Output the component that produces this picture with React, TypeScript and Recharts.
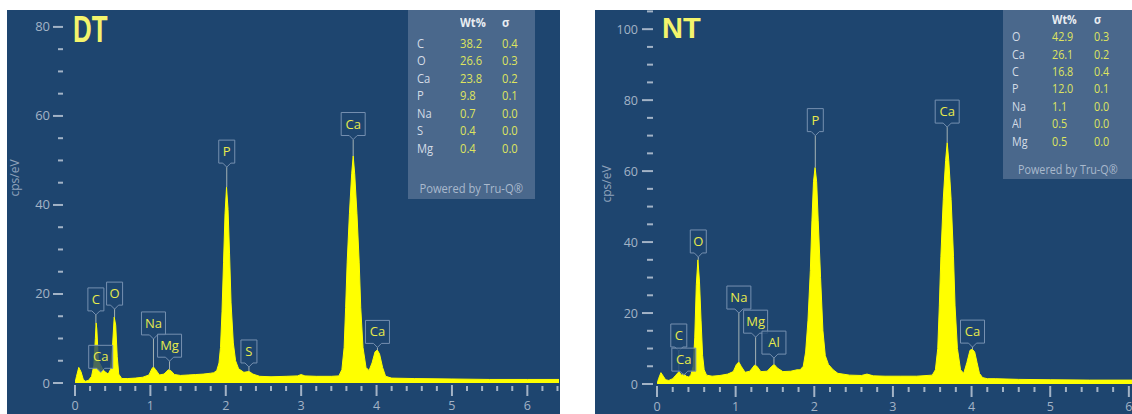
import React from "react";
import { Area, AreaChart, Label, ReferenceDot, ReferenceLine, XAxis, YAxis } from "recharts";

// DT spectrum (keV, cps/eV)
const dtEnergy = [
  0, 0.02, 0.05, 0.08, 0.11, 0.14, 0.18, 0.22, 0.25, 0.27,
  0.28, 0.29, 0.31, 0.34, 0.37, 0.4, 0.44, 0.47, 0.5, 0.52,
  0.54, 0.56, 0.58, 0.62, 0.7, 0.8, 0.9, 0.98, 1.02, 1.04,
  1.07, 1.12, 1.18, 1.24, 1.27, 1.32, 1.4, 1.5, 1.6, 1.7,
  1.8, 1.84, 1.88, 1.91, 1.93, 1.95, 1.97, 1.99, 2.01, 2.03,
  2.05, 2.07, 2.1, 2.13, 2.17, 2.24, 2.31, 2.36, 2.45, 2.6,
  2.8, 2.95, 3.0, 3.05, 3.2, 3.4, 3.5, 3.54, 3.57, 3.59,
  3.61, 3.64, 3.67, 3.69, 3.71, 3.74, 3.77, 3.79, 3.82, 3.86,
  3.9, 3.94, 3.98, 4.01, 4.04, 4.08, 4.12, 4.2, 4.5, 5.0,
  5.5, 6.0, 6.42,
];
const dtCounts = [
  0, 1.5, 3.5, 2.5, 0.8, 0.4, 0.6, 1.5, 4, 10,
  13.5, 12, 5, 4, 3, 2.5, 2, 3, 9, 14.8,
  13, 6, 2, 1, 1, 1.1, 1.3, 1.8, 3.2, 3.6,
  3, 1.8, 2, 3, 2.8, 1.9, 1.7, 1.8, 1.9, 2,
  2.2, 2.3, 2.8, 4.5, 8, 16, 27, 38, 44, 39,
  29, 18, 9, 5, 3.2, 2.4, 2.6, 2, 1.5, 1.4,
  1.5, 1.6, 1.9, 1.6, 1.5, 1.5, 1.6, 3, 8, 17,
  27, 38, 47, 51, 47, 38, 27, 17, 8, 3.5,
  2.8, 4.5, 7, 7.4, 6.5, 3.5, 1.5, 1.1, 1, 0.9,
  0.8, 0.8, 0.8,
];

// NT spectrum (keV, cps/eV)
const ntEnergy = [
  0, 0.02, 0.05, 0.08, 0.11, 0.15, 0.2, 0.24, 0.28, 0.31,
  0.34, 0.37, 0.4, 0.43, 0.46, 0.48, 0.5, 0.52, 0.54, 0.56,
  0.58, 0.6, 0.63, 0.7, 0.8, 0.9, 0.97, 1.01, 1.04, 1.07,
  1.12, 1.18, 1.24, 1.27, 1.32, 1.4, 1.46, 1.49, 1.53, 1.6,
  1.7, 1.78, 1.82, 1.86, 1.89, 1.92, 1.95, 1.97, 1.99, 2.01,
  2.03, 2.05, 2.08, 2.11, 2.14, 2.18, 2.24, 2.3, 2.45, 2.6,
  2.67, 2.75, 2.9, 3.1, 3.3, 3.5, 3.54, 3.57, 3.59, 3.61,
  3.64, 3.67, 3.69, 3.71, 3.74, 3.77, 3.79, 3.82, 3.86, 3.9,
  3.94, 3.98, 4.01, 4.04, 4.07, 4.1, 4.14, 4.2, 4.3, 4.6,
  5.0, 5.5, 6.04,
];
const ntCounts = [
  0, 1.5, 3.2, 2.2, 1.2, 1, 1.5, 2.5, 3.5, 2.5,
  3, 2.2, 2, 2.5, 5, 13, 28, 35, 29, 18,
  8, 4, 2.5, 2.2, 2.4, 2.8, 3.5, 5.5, 6.2, 5,
  3.3, 3.6, 5.3, 5, 3.5, 3.6, 5, 5.5, 4.5, 3.5,
  3.6, 4, 4, 5, 9, 18, 32, 46, 57, 61,
  57, 46, 30, 15, 8, 5.5, 4, 3, 2.5, 2.4,
  2.8, 2.3, 2.2, 2.2, 2.2, 2.5, 4, 10, 22, 36,
  52, 63, 68, 63, 52, 36, 22, 10, 4, 3,
  6, 9.5, 9.8, 9, 6, 3, 1.8, 1.5, 1.5, 1.3,
  1.2, 1.1, 1.1,
];

// peak tags: energy, peak height, pointer tip (cps/eV)
const dtPeaks = [
  { el: "C", keV: 0.277, top: 13.5, tip: 15.3 },
  { el: "Ca", keV: 0.341, top: 4, tip: 2.4 },
  { el: "O", keV: 0.525, top: 14.8, tip: 16.6 },
  { el: "Na", keV: 1.041, top: 3.6, tip: 9.9 },
  { el: "Mg", keV: 1.254, top: 3, tip: 4.9 },
  { el: "P", keV: 2.013, top: 44, tip: 48.5 },
  { el: "S", keV: 2.307, top: 2.6, tip: 3.6 },
  { el: "Ca", keV: 3.69, top: 51, tip: 54.7 },
  { el: "Ca", keV: 4.012, top: 7.4, tip: 8 },
];
const ntPeaks = [
  { el: "C", keV: 0.277, top: 3.5, tip: 9.3 },
  { el: "Ca", keV: 0.341, top: 3, tip: 2.5 },
  { el: "O", keV: 0.525, top: 35, tip: 35.8 },
  { el: "Na", keV: 1.041, top: 6.2, tip: 20 },
  { el: "Mg", keV: 1.254, top: 5.3, tip: 13.2 },
  { el: "Al", keV: 1.487, top: 5.5, tip: 7.3 },
  { el: "P", keV: 2.013, top: 61, tip: 70 },
  { el: "Ca", keV: 3.69, top: 68, tip: 72.4 },
  { el: "Ca", keV: 4.012, top: 9.8, tip: 10.4 },
];

const dtElements = ["C", "O", "Ca", "P", "Na", "S", "Mg"];
const dtWt = ["38.2", "26.6", "23.8", "9.8", "0.7", "0.4", "0.4"];
const dtSigma = ["0.4", "0.3", "0.2", "0.1", "0.0", "0.0", "0.0"];
const ntElements = ["O", "Ca", "C", "P", "Na", "Al", "Mg"];
const ntWt = ["42.9", "26.1", "16.8", "12.0", "1.1", "0.5", "0.5"];
const ntSigma = ["0.3", "0.2", "0.4", "0.1", "0.0", "0.0", "0.0"];

const dtXTicks = [0, 0.2, 0.4, 0.6, 0.8, 1, 1.2, 1.4, 1.6, 1.8, 2, 2.2, 2.4, 2.6, 2.8, 3, 3.2, 3.4, 3.6, 3.8, 4, 4.2, 4.4, 4.6, 4.8, 5, 5.2, 5.4, 5.6, 5.8, 6, 6.2, 6.4];
const ntXTicks = [0, 0.2, 0.4, 0.6, 0.8, 1, 1.2, 1.4, 1.6, 1.8, 2, 2.2, 2.4, 2.6, 2.8, 3, 3.2, 3.4, 3.6, 3.8, 4, 4.2, 4.4, 4.6, 4.8, 5, 5.2, 5.4, 5.6, 5.8, 6];
const dtYTicks = [0, 5, 10, 15, 20, 25, 30, 35, 40, 45, 50, 55, 60, 65, 70, 75, 80];
const ntYTicks = [0, 5, 10, 15, 20, 25, 30, 35, 40, 45, 50, 55, 60, 65, 70, 75, 80, 85, 90, 95, 100, 105];

const BG = "#1e456f";
const TICK = "#a3b3c6";
const YELLOW = "#ffff00";
const FONT = "'Open Sans', 'Noto Sans', sans-serif";

type AxisCfg = { dashEnd: number; majorLen: number; minorLen: number; labelEnd: number; fontSize: number };

function makeYTick(cfg: AxisCfg) {
  return (props: any) => {
    const { x, y, payload } = props;
    const major = payload.value % 20 === 0;
    const len = major ? cfg.majorLen : cfg.minorLen;
    return (
      <g>
        <line x1={x - cfg.dashEnd - len} x2={x - cfg.dashEnd} y1={y} y2={y} stroke={TICK} strokeWidth={2} />
        {major ? (
          <text x={x - cfg.labelEnd} y={y + 4.5} textAnchor="end" fill={TICK} fontSize={cfg.fontSize} fontFamily={FONT}>
            {payload.value}
          </text>
        ) : null}
      </g>
    );
  };
}

function XTick(props: any) {
  const { x, y, payload } = props;
  const major = Number.isInteger(payload.value);
  return (
    <g>
      <line x1={x} x2={x} y1={y + (major ? 2 : 3)} y2={y + (major ? 13 : 8)} stroke={TICK} strokeWidth={2} />
      {major ? (
        <text x={x} y={y + 27} textAnchor="middle" fill={TICK} fontSize={12.5} fontFamily={FONT}>
          {payload.value}
        </text>
      ) : null}
    </g>
  );
}

function PeakTag(props: any) {
  const { cx, cy, el } = props;
  const w = el.length > 1 ? 24 : 16;
  const h = 23;
  const n = 4;
  const top = cy - n - h;
  const d = `M${cx - w / 2},${top} H${cx + w / 2} V${top + h} H${cx + n} L${cx},${cy} L${cx - n},${top + h} H${cx - w / 2} Z`;
  return (
    <g>
      <path d={d} fill={BG} fillOpacity={0.8} stroke="#7690b0" strokeWidth={1} />
      <text x={cx} y={top + h / 2 + 4.5} textAnchor="middle" fill="#e8ea4c" fontSize={13} fontFamily={FONT}>
        {el}
      </text>
    </g>
  );
}

type Peak = { el: string; keV: number; top: number; tip: number };

type SpectrumProps = {
  energy: number[];
  counts: number[];
  peaks: Peak[];
  xTicks: number[];
  yTicks: number[];
  xMax: number;
  yMax: number;
  width: number;
  yAxisWidth: number;
  xAxisHeight: number;
  yCfg: AxisCfg;
  unitPos: { x: number; y: number };
};

function Spectrum(p: SpectrumProps) {
  const data = p.energy.map((e, i) => ({ keV: e, cps: p.counts[i] }));
  const YTick = makeYTick(p.yCfg);
  return (
    <AreaChart width={p.width} height={404} data={data} margin={{ top: 0, right: 0, left: 0, bottom: 0 }}>
      <XAxis
        type="number"
        dataKey="keV"
        domain={[0, p.xMax]}
        ticks={p.xTicks}
        interval={0}
        allowDataOverflow
        axisLine={false}
        tickLine={false}
        tickSize={0}
        tickMargin={0}
        height={p.xAxisHeight}
        tick={XTick}
      />
      <YAxis
        type="number"
        domain={[0, p.yMax]}
        ticks={p.yTicks}
        interval={0}
        allowDataOverflow
        axisLine={false}
        tickLine={false}
        tickSize={0}
        tickMargin={0}
        width={p.yAxisWidth}
        tick={YTick}
      >
        <Label
          content={() => (
            <text
              x={p.unitPos.x}
              y={p.unitPos.y}
              transform={`rotate(-90 ${p.unitPos.x} ${p.unitPos.y})`}
              textAnchor="middle"
              fill="#8ea2bb"
              fontSize={12}
              fontFamily={FONT}
            >
              cps/eV
            </text>
          )}
        />
      </YAxis>
      <Area
        type="linear"
        dataKey="cps"
        stroke={YELLOW}
        strokeWidth={1}
        fill={YELLOW}
        fillOpacity={1}
        isAnimationActive={false}
      />
      {p.peaks.map((pk, i) => (
        <ReferenceLine
          key={`l${i}`}
          segment={[
            { x: pk.keV, y: pk.top },
            { x: pk.keV, y: pk.tip },
          ]}
          stroke="#a4b2b4"
          strokeWidth={1}
        />
      ))}
      {p.peaks.map((pk, i) => (
        <ReferenceDot key={`d${i}`} x={pk.keV} y={pk.tip} r={0} ifOverflow="visible" shape={(s: any) => <PeakTag {...s} el={pk.el} />} />
      ))}
    </AreaChart>
  );
}

type TableProps = {
  left: number;
  width: number;
  height: number;
  elements: string[];
  wt: string[];
  sigma: string[];
  headerY: number;
  rowY: number;
  rowGap: number;
  nameX: number;
  wtX: number;
  sigmaX: number;
  poweredY: number;
  fontSize: number;
};

function ResultTable(t: TableProps) {
  const cell = (x: number, y: number, color: string, text: string, bold = false) => (
    <div
      style={{
        position: "absolute",
        left: x,
        top: y - t.fontSize * 0.7,
        color,
        fontSize: t.fontSize,
        fontWeight: bold ? 700 : 400,
        lineHeight: "1.4",
        whiteSpace: "nowrap",
        transform: "scaleX(0.86)",
        transformOrigin: "left center",
      }}
    >
      {text}
    </div>
  );
  return (
    <div
      style={{
        position: "absolute",
        left: t.left,
        top: 0,
        width: t.width,
        height: t.height,
        background: "#4a688c",
        fontFamily: FONT,
      }}
    >
      {cell(t.wtX, t.headerY, "#e8edf2", "Wt%", true)}
      {cell(t.sigmaX, t.headerY, "#e8edf2", "σ", true)}
      {t.elements.map((el, i) => (
        <React.Fragment key={el}>
          {cell(t.nameX, t.rowY + i * t.rowGap, "#d4dce6", el)}
          {cell(t.wtX, t.rowY + i * t.rowGap, "#dfe45e", t.wt[i])}
          {cell(t.sigmaX, t.rowY + i * t.rowGap, "#dfe45e", t.sigma[i])}
        </React.Fragment>
      ))}
      <div
        style={{
          position: "absolute",
          left: 0,
          width: t.width,
          top: t.poweredY - t.fontSize * 0.7,
          textAlign: "center",
          color: "#a9b9cc",
          fontSize: t.fontSize,
          lineHeight: "1.4",
          whiteSpace: "nowrap",
        }}
      >
        <span style={{ display: "inline-block", transform: "scaleX(0.86)" }}>Powered by Tru-Q®</span>
      </div>
    </div>
  );
}

export default function App() {
  return (
    <div style={{ position: "absolute", left: 0, top: 0, width: 1132, height: 414, background: "#ffffff", overflow: "hidden" }}>
      <div style={{ position: "absolute", left: 7, top: 10, width: 553, height: 404, background: BG }}>
        <Spectrum
          energy={dtEnergy}
          counts={dtCounts}
          peaks={dtPeaks}
          xTicks={dtXTicks}
          yTicks={dtYTicks}
          xMax={6.42}
          yMax={83.8}
          width={552}
          yAxisWidth={68}
          xAxisHeight={31}
          yCfg={{ dashEnd: 12, majorLen: 10, minorLen: 5, labelEnd: 25, fontSize: 13 }}
          unitPos={{ x: 12, y: 168 }}
        />
        <div
          style={{
            position: "absolute",
            left: 66,
            top: 0,
            color: "#f4f46c",
            fontFamily: "'Liberation Sans', Arial, sans-serif",
            fontWeight: 700,
            fontSize: 37,
            lineHeight: "40px",
            transform: "scaleX(0.7)",
            transformOrigin: "left top",
          }}
        >
          DT
        </div>
        <ResultTable
          left={401}
          width={127}
          height={189}
          elements={dtElements}
          wt={dtWt}
          sigma={dtSigma}
          headerY={12}
          rowY={33}
          rowGap={17.5}
          nameX={9}
          wtX={52}
          sigmaX={94}
          poweredY={178}
          fontSize={13}
        />
      </div>
      <div style={{ position: "absolute", left: 595, top: 10, width: 537, height: 404, background: BG }}>
        <Spectrum
          energy={ntEnergy}
          counts={ntCounts}
          peaks={ntPeaks}
          xTicks={ntXTicks}
          yTicks={ntYTicks}
          xMax={6.04}
          yMax={105.4}
          width={537}
          yAxisWidth={62}
          xAxisHeight={30}
          yCfg={{ dashEnd: 4, majorLen: 11, minorLen: 6, labelEnd: 19, fontSize: 12.5 }}
          unitPos={{ x: 16, y: 174 }}
        />
        <div
          style={{
            position: "absolute",
            left: 67,
            top: 0,
            color: "#f4f46c",
            fontFamily: "'Liberation Sans', Arial, sans-serif",
            fontWeight: 700,
            fontSize: 29,
            lineHeight: "36px",
          }}
        >
          NT
        </div>
        <ResultTable
          left={408}
          width={129}
          height={169}
          elements={ntElements}
          wt={ntWt}
          sigma={ntSigma}
          headerY={10}
          rowY={27}
          rowGap={17.4}
          nameX={9}
          wtX={49}
          sigmaX={91}
          poweredY={160}
          fontSize={12.5}
        />
      </div>
    </div>
  );
}
